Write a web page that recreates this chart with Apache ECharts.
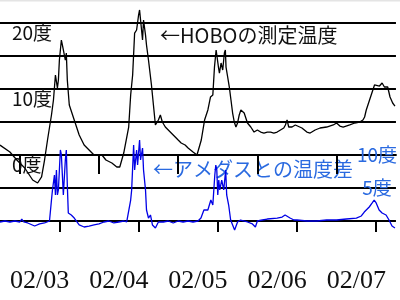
<!DOCTYPE html>
<html><head><meta charset="utf-8">
<script src="https://cdn.jsdelivr.net/npm/echarts@6/dist/echarts.min.js"></script>
<style>html,body{margin:0;padding:0;background:#fff}#c{width:400px;height:300px}</style>
</head><body><div id="c"></div>
<script>
// x tick labels (dates) and where they sit, hours from 02/03 00:00
const xLabels = ['02/03', '02/04', '02/05', '02/06', '02/07'];
const labelHours = [6, 30, 54, 78, 102];
const dayTicks = [0, 24, 48, 72, 96];
const noonTicks = [12, 36, 60, 84, 108];
const leftTickValues = [0, 10, 20];
const rightTickValues = [5, 10];

// HOBO measured temperature (deg C)
const hoboHours = [-6.0,-3.0,-0.9,1.5,3.9,5.4,6.6,7.5,8.4,9.6,10.2,10.8,11.4,11.7,12.0,12.6,12.9,13.2,13.8,14.1,14.4,15.0,16.5,18.0,19.5,21.0,22.5,23.4,
 24.0,24.9,26.1,27.9,29.4,30.3,30.9,31.5,33.0,33.6,34.2,34.8,35.4,36.0,36.3,36.9,37.2,37.5,38.1,38.4,39.0,39.9,40.5,41.1,42.0,42.6,43.2,44.1,45.0,46.5,48.0,48.9,50.1,51.0,52.5,53.7,
 54.0,55.0,56.0,57.0,57.8,58.5,59.0,59.5,59.8,60.2,60.5,61.0,61.5,62.0,62.3,62.5,63.0,63.5,64.0,64.5,65.0,65.5,66.0,66.5,67.0,68.0,69.0,70.0,71.0,72.0,73.0,74.0,75.0,76.0,77.0,78.0,79.0,80.0,80.5,81.0,81.5,82.5,83.5,
 84.0,85.5,87.0,88.0,89.5,91.0,93.0,95.0,96.0,97.0,98.0,100.0,101.5,103.0,104.0,104.5,105.0,106.0,107.0,107.5,108.0,109.0,109.8,110.5,111.5,112.2,113.0,113.7];
const hoboTemp = [1.5,0.45,-0.76,-1.97,-3.79,-4.24,-3.33,-0.76,2.27,6.06,8.33,12.12,10.15,11.36,14.39,17.42,16.67,15.91,14.39,15.45,11.36,7.58,5.3,3.03,1.52,0.76,0.0,0.0,
 -0.3,0.0,-0.76,-1.21,-1.82,-1.82,-0.76,0.3,4.24,9.09,12.12,18.48,18.94,21.21,21.97,18.94,17.42,20.45,18.18,16.67,14.39,10.61,7.58,4.55,5.3,6.06,5.0,4.24,3.79,3.03,2.27,1.82,1.52,1.06,0.45,0.0,
 0.3,2.27,5.3,6.82,8.79,9.09,13.33,15.91,15.61,13.33,12.42,13.94,12.88,15.45,15.91,13.33,11.82,10.3,8.33,6.36,5.0,4.24,4.85,6.06,6.82,6.36,4.85,4.24,3.48,3.79,3.48,3.33,3.48,3.48,3.33,3.48,3.79,4.09,4.55,5.3,4.24,4.24,4.55,
 4.55,4.09,3.48,3.33,3.79,4.09,4.24,4.55,4.85,4.39,4.24,4.55,4.85,5.0,5.3,5.76,6.82,8.33,9.85,10.61,10.61,10.45,10.91,10.3,10.3,8.79,7.88,7.42];

// Difference from AMeDAS (deg C)
const diffHours = [-6.0,-4.5,-3.0,-1.5,0.0,0.6,1.2,2.4,3.0,4.5,6.0,6.6,7.5,9.0,9.6,9.9,10.5,10.8,11.1,11.4,11.7,12.0,12.3,12.6,12.9,13.2,13.8,14.1,14.4,14.7,15.6,16.5,18.0,19.5,21.0,22.5,24.0,
 25.5,27.0,28.5,30.0,31.5,32.4,33.0,33.6,33.9,34.5,34.8,35.4,35.7,36.3,36.6,37.2,37.5,38.1,38.4,39.0,39.6,40.2,41.1,42.0,43.5,45.0,46.5,48.0,49.5,51.0,52.5,54.0,
 54.9,55.8,57.0,57.9,58.5,59.1,59.4,59.7,60.0,60.3,60.6,61.2,61.8,62.4,62.7,63.3,63.9,64.5,65.1,66.0,66.9,67.5,69.0,70.5,71.4,72.0,73.5,75.0,78.0,79.5,80.4,81.0,81.9,83.1,84.0,
 87.0,90.0,93.0,96.0,99.0,102.0,103.5,104.4,105.9,106.8,107.4,108.0,108.9,109.8,111.0,111.9,112.8,113.7];
const diffTemp = [-0.15,0.0,-0.15,0.0,-0.15,0.3,-0.15,-0.3,-0.6,-0.76,-0.45,-0.6,-0.3,0.0,3.18,4.7,6.97,3.94,7.73,3.94,4.7,7.73,10.76,10.0,6.97,3.94,9.24,10.76,5.45,1.21,0.91,0.45,-0.6,-0.91,-0.76,-0.6,-0.45,
 -0.15,0.0,-0.3,-0.15,0.0,-0.15,0.15,3.18,4.7,11.52,7.73,10.76,8.48,12.27,9.24,11.06,7.73,4.7,1.67,0.45,0.91,-0.6,-1.06,-0.15,-0.15,0.0,-0.3,0.0,-0.15,0.0,-0.15,0.0,
 0.45,1.67,1.67,3.18,2.42,6.97,8.48,7.73,3.94,6.21,4.7,6.21,4.7,7.73,3.94,2.42,0.15,-0.6,-1.36,-0.15,0.15,-0.15,-0.15,-0.45,-0.91,0.0,0.15,0.3,0.45,0.6,0.91,1.21,0.45,0.15,0.15,
 0.0,0.0,0.15,0.15,0.3,0.45,0.76,1.36,2.12,2.73,3.18,2.73,1.67,1.21,0.91,0.15,-0.76,-1.06];

const hoboData = hoboHours.map((h, i) => [h, hoboTemp[i]]);
const diffData = diffHours.map((h, i) => [h, diffTemp[i]]);

const chart = echarts.init(document.getElementById('c'), null, {renderer: 'canvas'});
const jp = '"Noto Sans CJK JP", sans-serif';
const blueText = '#2a6ae0';
chart.setOption({
  animation: false,
  grid: {left: 0, right: 0, top: 23, height: 198, containLabel: false},
  xAxis: [{
    type: 'value', min: -6, max: 114,
    axisLine: {show: true, lineStyle: {color: '#000', width: 2}},
    axisTick: {show: true, customValues: dayTicks, length: 19, lineStyle: {color: '#000', width: 2}},
    axisLabel: {customValues: labelHours, formatter: v => xLabels[labelHours.indexOf(v)] || '',
      fontFamily: '"Liberation Serif", serif', fontSize: 26, color: '#111', margin: 47},
    splitLine: {show: false}
  }, {
    type: 'value', min: -6, max: 114, position: 'bottom',
    axisLine: {show: false},
    axisTick: {show: true, customValues: noonTicks, length: 11, lineStyle: {color: '#000', width: 2}},
    axisLabel: {show: false}, splitLine: {show: false}
  }],
  yAxis: [{
    type: 'value', min: -10, max: 20, interval: 5,
    axisLine: {show: false}, axisTick: {show: false},
    splitLine: {show: true, lineStyle: {color: '#000', width: 2}},
    axisLabel: {customValues: leftTickValues, inside: true, formatter: v => v + '度',
      align: 'left', verticalAlign: 'top', margin: 12, fontFamily: jp, fontSize: 19, color: '#111'}
  }, {
    type: 'value', min: 0, max: 30, position: 'right',
    axisLine: {show: false}, axisTick: {show: false}, splitLine: {show: false},
    axisLabel: {customValues: rightTickValues, inside: true, formatter: v => v + '度',
      align: 'center', verticalAlign: 'middle', margin: 19, fontFamily: jp, fontSize: 19, color: blueText}
  }],
  graphic: [
    {type: 'line', shape: {x1: 0, y1: 0.5, x2: 400, y2: 0.5}, style: {stroke: '#e4e4e4', lineWidth: 2}},
    {type: 'text', left: 160, top: 25, style: {text: '←HOBOの測定温度', font: '20px "Noto Sans CJK JP"', fill: '#111'}},
    {type: 'text', left: 153, top: 159, style: {text: '←アメダスとの温度差', font: '20px "Noto Sans CJK JP"', fill: blueText}}
  ],
  series: [{
    type: 'line', xAxisIndex: 0, yAxisIndex: 0, data: hoboData, showSymbol: false, clip: false,
    lineStyle: {color: '#000', width: 1.3}, z: 3
  }, {
    type: 'line', xAxisIndex: 0, yAxisIndex: 1, data: diffData, showSymbol: false, clip: false,
    lineStyle: {color: '#0000e6', width: 1.3}, z: 4
  }]
});
</script></body></html>
